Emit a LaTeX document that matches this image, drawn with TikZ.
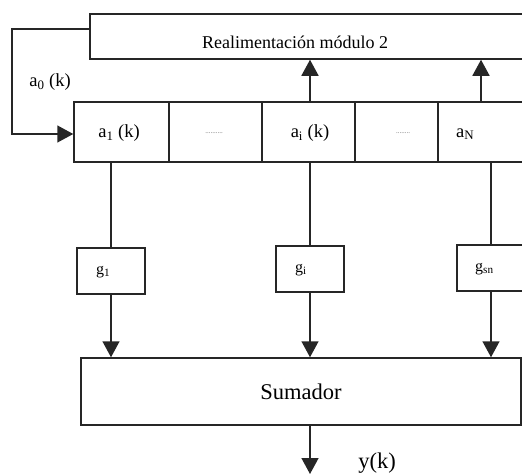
\documentclass[tikz,border=0pt]{standalone}
\usepackage{fontspec}
\setmainfont{Liberation Serif}
\usetikzlibrary{arrows.meta,calc}
\begin{document}
\begin{tikzpicture}[x=1pt,y=-1pt,
  box/.style={draw=black!85,line width=1.5pt,inner sep=0pt},
  wire/.style={draw=black!85,line width=1.5pt},
  arr/.style={wire,-{Triangle[width=17pt,length=16pt]}},
  lbl/.style={inner sep=0pt,font=\fontsize{18.5}{21}\selectfont},
  glbl/.style={inner sep=0pt,anchor=west,font=\fontsize{16}{18}\selectfont},
  dots/.style={inner sep=0pt,text=black!60,font=\fontsize{7}{8}\selectfont}]
\clip (0,0) rectangle (522,474);
% feedback box (cut at right edge)
\node[box,minimum width=480pt,minimum height=45pt] (fb) at (330,36.5) {};
\node[lbl,font=\fontsize{18}{21}\selectfont] (fbt) at (295,42) {Realimentación módulo 2};
% register cells
\node[box,minimum width=95pt,minimum height=60pt] (c1) at (121.5,132) {};
\node[box,minimum width=93pt,minimum height=60pt] (c2) at (215.5,132) {};
\node[box,minimum width=93pt,minimum height=60pt] (c3) at (308.5,132) {};
\node[box,minimum width=83pt,minimum height=60pt] (c4) at (396.5,132) {};
\node[box,minimum width=122pt,minimum height=60pt] (c5) at (499,132) {};
\node[lbl] (t1) at (119,133) {a\textsubscript{1} (k)};
\node[dots] (d1) at (214,133) {..........};
\node[lbl] (ti) at (310,133) {a\textsubscript{i} (k)};
\node[dots] (d2) at (403,133) {........};
\node[lbl,anchor=west] (tN) at (456,134) {a\textsubscript{N}};
% a0 label
\node[lbl] (a0) at (50,82) {a\textsubscript{0} (k)};
% gain boxes
\node[box,minimum width=68pt,minimum height=46pt] (g1) at (111,271) {};
\node[box,minimum width=68pt,minimum height=46pt] (gi) at (310,269) {};
\node[box,minimum width=68pt,minimum height=46pt] (gn) at (491,268) {};
\node[glbl] (g1t) at (96,272) {g\textsubscript{1}};
\node[glbl] (git) at (295,270) {g\textsubscript{i}};
\node[glbl] (gnt) at (475,269) {g\textsubscript{sn}};
% sumador
\node[box,minimum width=440pt,minimum height=67pt,font=\fontsize{22.5}{26}\selectfont] (sum) at (301,391.5) {Sumador};
\coordinate (out) at (310,474);
\node[inner sep=0pt,font=\fontsize{22.5}{26}\selectfont] (yk) at (377,463) {y(k)};
% feedback path
\coordinate (fbw) at ($(fb.west)+(0,-7.5)$);
\draw[arr] (fbw) -- (12,29) |- ($(c1.west)+(0,2)$);
% upward arrows
\coordinate (upI) at (310,102);
\coordinate (upN) at (481,102);
\draw[arr] (upI) -- (upI |- fb.south);
\draw[arr] (upN) -- (upN |- fb.south);
% register to gains
\draw[wire] (g1.north |- c1.south) -- (g1.north);
\draw[wire] (gi.north |- c3.south) -- (gi.north);
\draw[wire] (gn.north |- c5.south) -- (gn.north);
% gains to sumador
\draw[arr] (g1.south) -- (g1.south |- sum.north);
\draw[arr] (gi.south) -- (gi.south |- sum.north);
\draw[arr] (gn.south) -- (gn.south |- sum.north);
% output
\draw[arr] (sum.south -| out) -- (out);
\end{tikzpicture}
\end{document}
